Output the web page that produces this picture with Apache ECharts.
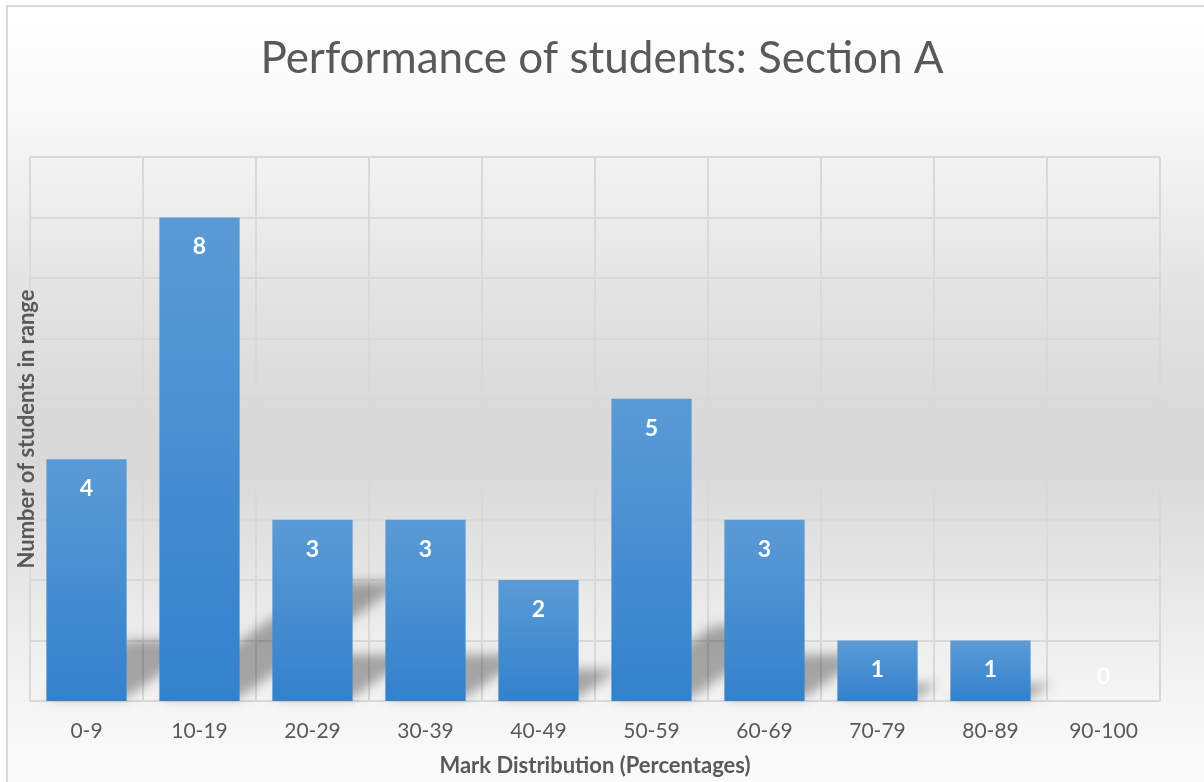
<!DOCTYPE html>
<html>
<head>
<meta charset="utf-8">
<script src="https://cdn.jsdelivr.net/npm/echarts@6/dist/echarts.min.js"></script>
<style>
  html, body { margin: 0; padding: 0; background: #ffffff; }
  #chart { width: 1204px; height: 782px; }
</style>
</head>
<body>
<div id="chart"></div>
<script>
// Mark ranges and how many students fell in each
const categories = ['0-9', '10-19', '20-29', '30-39', '40-49', '50-59', '60-69', '70-79', '80-89', '90-100'];
const counts = [4, 8, 3, 3, 2, 5, 3, 1, 1, 0];
const countMax = 9;
const chartTitle = 'Performance of students: Section A';
const xName = 'Mark Distribution (Percentages)';
const yName = 'Number of students in range';

const FONT = 'Lato, "Open Sans", sans-serif';
const TEXT_GREY = '#595959';
const GRID_LINE = '#d9d9d9';
const BAR_RATIO = 0.71;
const SHADOW_SHIFT = 3000;

const chart = echarts.init(document.getElementById('chart'), null, { renderer: 'canvas' });

// Bar fill: lighter blue at the top fading to a deeper blue at the base
const barFill = new echarts.graphic.LinearGradient(0, 0, 0, 1, [
  { offset: 0, color: '#5b9bd5' },
  { offset: 1, color: '#3381cc' }
]);

// Data labels; an empty range gets its label lifted above the baseline
const barData = counts.map(function (v) {
  if (v === 0) {
    return { value: v, label: { position: 'insideBottom', distance: 13 } };
  }
  return v;
});

// Soft floor shadow cast up and to the right of every bar.
// The solid shape is pushed off to the side so only its blurred shadow lands on the plot.
function renderShadow(params, api) {
  const idx = api.value(0);
  const top = api.coord([idx, api.value(1)]);
  const base = api.coord([idx, 0]);
  const h = base[1] - top[1];
  if (h <= 0) return null;
  const w = api.size([1, 0])[0] * BAR_RATIO;
  const xL = base[0] - w / 2 + SHADOW_SHIFT;
  const xR = base[0] + w / 2 + SHADOW_SHIFT;
  const yb = base[1] - 3;
  const dx = h * 0.34;
  const dy = h * 0.24;
  return {
    type: 'polygon',
    shape: {
      points: [[xL, yb], [xR, yb], [xR + dx, yb - dy], [xL + dx, yb - dy]]
    },
    style: {
      fill: '#000000',
      shadowBlur: 12,
      shadowOffsetX: -SHADOW_SHIFT,
      shadowOffsetY: 0,
      shadowColor: 'rgba(0,0,0,0.32)'
    }
  };
}

const option = {
  backgroundColor: '#ffffff',
  animation: false,
  graphic: [{
    type: 'rect',
    z: -10,
    silent: true,
    shape: { x: 7, y: 6, width: 1220, height: 800 },
    style: {
      fill: new echarts.graphic.LinearGradient(0, 0, 0, 1, [
        { offset: 0.00, color: '#ffffff' },
        { offset: 0.13, color: '#f9f9f9' },
        { offset: 0.20, color: '#f2f2f2' },
        { offset: 0.36, color: '#e3e3e3' },
        { offset: 0.50, color: '#dadada' },
        { offset: 0.58, color: '#d9d9d9' },
        { offset: 0.66, color: '#e1e1e1' },
        { offset: 0.77, color: '#ececec' },
        { offset: 0.88, color: '#f6f6f6' },
        { offset: 1.00, color: '#fdfdfd' }
      ]),
      stroke: '#d9d9d9',
      lineWidth: 2
    }
  }],
  title: {
    text: chartTitle,
    left: 'center',
    top: 32,
    textStyle: {
      fontFamily: FONT,
      fontSize: 44,
      fontWeight: 'normal',
      color: TEXT_GREY
    }
  },
  grid: { left: 30, right: 44, top: 157, bottom: 80, containLabel: false },
  xAxis: {
    type: 'category',
    data: categories,
    boundaryGap: true,
    name: xName,
    nameLocation: 'middle',
    nameGap: 54,
    nameTextStyle: { fontFamily: FONT, fontSize: 22, fontWeight: 'bold', color: TEXT_GREY },
    axisLine: { show: true, lineStyle: { color: GRID_LINE, width: 2 } },
    axisTick: { show: false },
    axisLabel: { margin: 20, fontFamily: FONT, fontSize: 21, color: TEXT_GREY },
    splitLine: { show: true, lineStyle: { color: GRID_LINE, width: 2 } }
  },
  yAxis: {
    type: 'value',
    min: 0,
    max: countMax,
    interval: 1,
    name: yName,
    nameLocation: 'middle',
    nameGap: -8,
    nameTextStyle: { fontFamily: FONT, fontSize: 22, fontWeight: 'bold', color: TEXT_GREY },
    axisLine: { show: false },
    axisTick: { show: false },
    axisLabel: { show: false },
    splitLine: { show: true, lineStyle: { color: GRID_LINE, width: 2 } }
  },
  series: [
    {
      type: 'custom',
      z: 1,
      clip: false,
      renderItem: renderShadow,
      data: counts.map(function (v, i) { return [i, v]; }),
      silent: true
    },
    {
      type: 'bar',
      z: 3,
      data: barData,
      barWidth: (BAR_RATIO * 100) + '%',
      itemStyle: { color: barFill },
      label: {
        show: true,
        position: 'insideTop',
        distance: 18,
        color: '#ffffff',
        fontFamily: FONT,
        fontSize: 23,
        fontWeight: 'bold'
      }
    }
  ]
};

chart.setOption(option);
</script>
</body>
</html>
